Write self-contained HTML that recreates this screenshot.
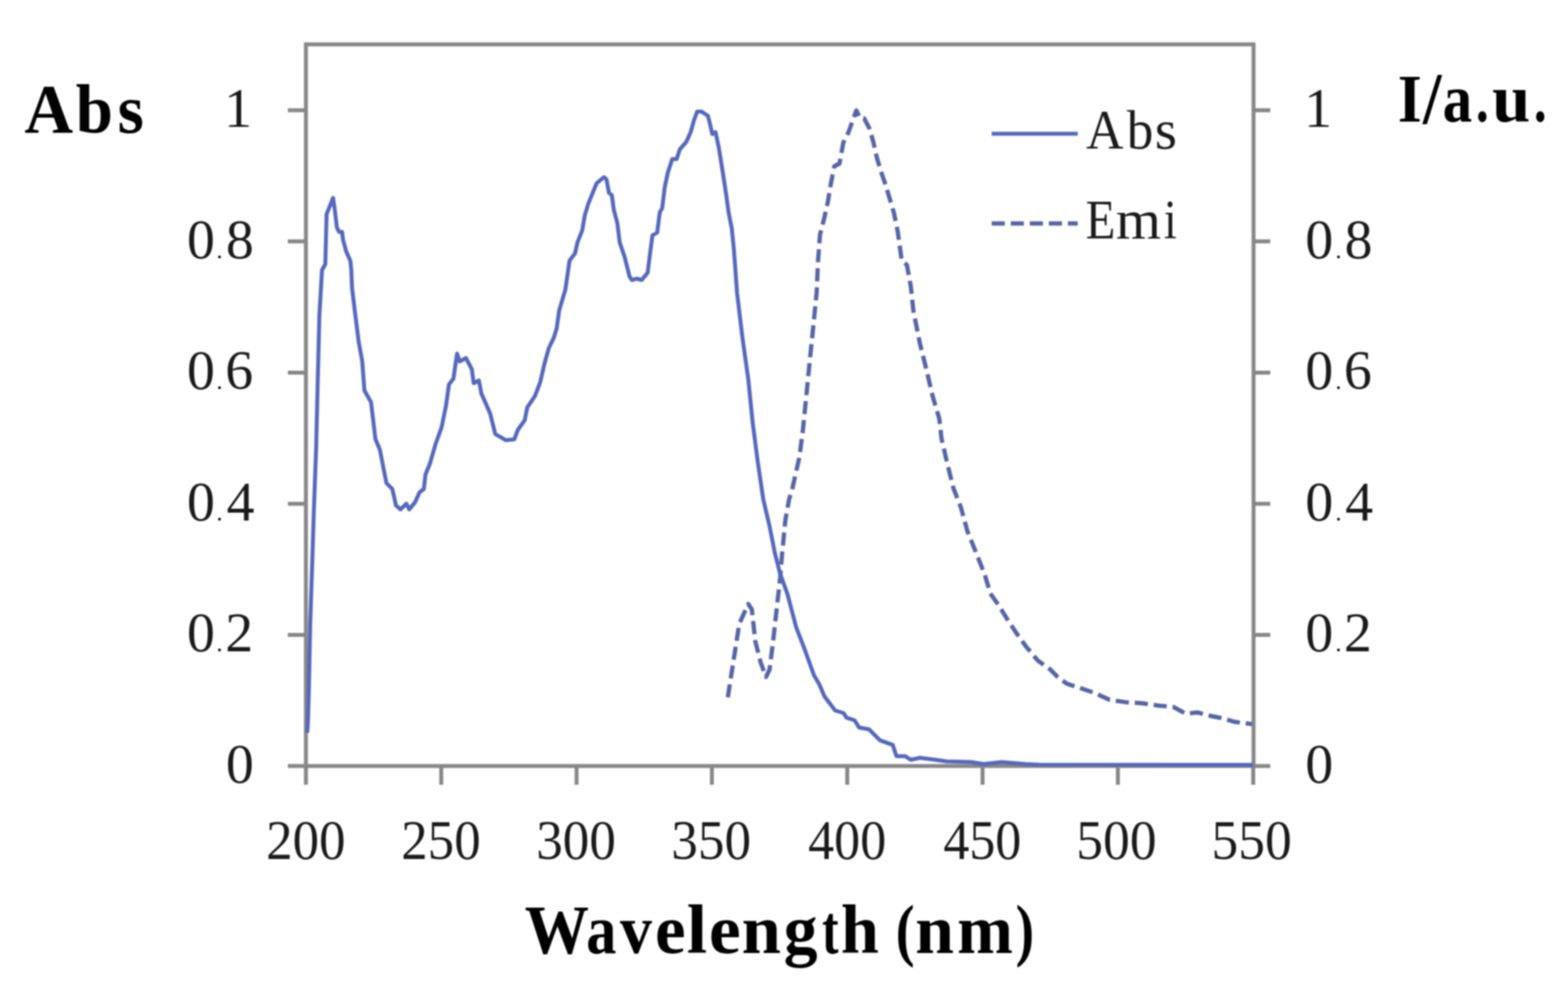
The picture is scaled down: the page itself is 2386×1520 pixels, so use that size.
<!DOCTYPE html>
<html><head><meta charset="utf-8"><title>Abs / Emi spectra</title>
<style>
html,body{margin:0;padding:0;background:#fff;}
body{width:2386px;height:1520px;overflow:hidden;}
svg{display:block;filter:blur(1.2px);}
.n{font-family:"Liberation Serif",serif;font-size:85px;fill:#1a1a1a;}
.b{font-family:"Liberation Serif",serif;font-weight:bold;fill:#000;}
</style></head>
<body>
<svg width="2386" height="1520" viewBox="0 0 2386 1520">
<rect x="0" y="0" width="2386" height="1520" fill="#fff"/>
<rect x="465.5" y="67.5" width="1442.0" height="1098.0" fill="none" stroke="#878787" stroke-width="6"/>
<path d="M438,1165.5 H465.5 M1907.5,1165.5 H1933 M438,965.96 H465.5 M1907.5,965.96 H1933 M438,766.42 H465.5 M1907.5,766.42 H1933 M438,566.88 H465.5 M1907.5,566.88 H1933 M438,367.34 H465.5 M1907.5,367.34 H1933 M438,167.8 H465.5 M1907.5,167.8 H1933 M465.5,1165.5 V1194 M671.43,1165.5 V1194 M877.36,1165.5 V1194 M1083.29,1165.5 V1194 M1289.22,1165.5 V1194 M1495.15,1165.5 V1194 M1701.08,1165.5 V1194 M1907.01,1165.5 V1194" stroke="#878787" stroke-width="6" fill="none"/>
<path d="M1107.5,1061 L1117,1000 L1125,949 L1138.6,919 L1144,927 L1149.4,976 L1157.5,1008 L1165.6,1030 L1171,1019 L1176.4,976 L1181.8,927 L1187.2,879 L1190,844 L1195,792 L1200.7,760 L1205.8,743 L1216.3,696 L1221.6,656 L1226.8,604 L1232,551 L1237.4,498 L1242.6,446 L1244.8,397 L1247.8,357 L1253.7,334 L1259.6,308 L1264.6,278 L1269.5,253 L1277.4,249 L1283.3,217 L1291.2,201 L1298.1,182 L1303,168 L1309,180 L1314.9,180 L1322.8,195 L1328.7,215 L1334.6,241 L1340.6,261 L1346.5,278 L1354.4,304 L1360.3,324 L1366.2,353 L1372.2,397 L1380,403 L1386,436 L1389.9,473 L1399.7,522 L1409.6,562 L1419.5,604 L1429.3,637 L1432.6,667 L1440.9,703 L1450.7,742.5 L1462.2,772 L1472,808 L1485.3,841 L1498.4,874 L1507,903 L1519.4,920.5 L1533.5,943.4 L1547.5,964.5 L1561.6,984 L1579.2,1005 L1598.6,1019 L1609,1029.6 L1623.2,1040.2 L1644.4,1047.2 L1665.5,1054.3 L1688.4,1064.8 L1713,1068.4 L1737.7,1070 L1764,1073.7 L1785,1075.4 L1804.6,1086 L1822,1084 L1843.3,1089.5 L1861,1093 L1878.5,1098.3 L1905,1101.8" fill="none" stroke="#5764a6" stroke-width="6.5" stroke-dasharray="20 9" stroke-linejoin="round"/>
<path d="M467.5,1115 L468.5,1100 L470,1050 L472,950 L475,860 L477.5,780 L481,684 L483,600 L486,480 L490,411 L495,402 L497,326 L506.8,301 L509.5,319.5 L512.6,346 L515.8,352.7 L520.5,352.7 L522,365 L526.9,382.7 L533.2,396.9 L534.5,410 L535.7,438 L539.5,469.6 L545.8,520 L551.2,549.5 L554.5,594 L564.6,612 L571.3,668 L578,684 L588,735 L597,744 L602.6,769 L609.4,775 L618.3,766.5 L622.8,775 L631.7,764 L638.4,749 L645,744 L647.4,722 L654,706 L663,675 L672,650 L678.7,617 L683.2,585 L690,576 L695.5,538 L699.7,550 L709,544.7 L718,562 L720.8,583 L728.7,579 L732.6,599 L745.8,629 L753.7,660.5 L769.5,669.7 L782.6,668.4 L788,654 L798.4,639.5 L802.4,619.7 L814,602.6 L822,581.6 L828.7,552.6 L835,530 L843,513 L847,500 L851,472 L860.3,440.7 L866.7,396.5 L875,385.5 L878.7,369 L886,350.5 L889.7,328.4 L895.2,310 L902.6,291.6 L908,278.7 L919,269.5 L922.9,273 L926.6,293.4 L931,297 L934,319 L939.4,339.4 L943,369 L950.5,391 L957.9,420.5 L961.5,426 L969,424 L976.3,426 L985.5,415 L989,387 L992.8,358 L1000,354 L1004,323 L1007.6,317 L1011.5,285 L1016.4,262 L1023,242 L1029.6,242 L1034.5,227.3 L1044.4,215.8 L1051,201 L1056,183 L1060.9,169.7 L1067.4,169.7 L1077.3,176.3 L1080.6,189.5 L1083.9,204 L1088.8,201 L1093.7,224 L1100.3,265 L1105.3,298 L1108.6,322.7 L1113.5,347.4 L1116.8,380 L1121.6,445.8 L1129.5,511.6 L1138.7,577.4 L1145.3,643 L1153.2,703.7 L1161.5,760 L1171,800.5 L1179,841 L1187.2,873.4 L1198,903 L1211.5,954.3 L1225,989.4 L1238.4,1027 L1246.5,1040.7 L1254.6,1059.6 L1270.8,1081 L1283.8,1085 L1288,1091.8 L1300.4,1096 L1307.3,1107 L1322.6,1109.8 L1339,1126.4 L1358.5,1133.3 L1364,1150.4 L1377,1150.4 L1386,1156 L1400,1153 L1423,1156 L1441,1158.5 L1478,1159.5 L1497,1162.5 L1524,1159.5 L1560,1162.5 L1580,1163.5 L1907,1163.8" fill="none" stroke="#5568bd" stroke-width="6" stroke-linejoin="round"/>
<path d="M1509,203.5 H1640" stroke="#5568bd" stroke-width="6"/>
<path d="M1509,340 H1640" stroke="#5764a6" stroke-width="6.5" stroke-dasharray="20 9"/>
<text x="343.8" y="1190.8" class="n">0</text>
<text x="1986.3" y="1190.8" class="n">0</text>
<text y="991.3" class="n"><tspan x="284.6">0</tspan><tspan x="329.5" font-size="36" fill="#000">.</tspan><tspan x="342.8">2</tspan></text>
<text y="991.3" class="n"><tspan x="1986.3">0</tspan><tspan x="2032.3" font-size="36" fill="#000">.</tspan><tspan x="2045.0">2</tspan></text>
<text y="791.7" class="n"><tspan x="284.6">0</tspan><tspan x="329.5" font-size="36" fill="#000">.</tspan><tspan x="344.8">4</tspan></text>
<text y="791.7" class="n"><tspan x="1986.3">0</tspan><tspan x="2032.3" font-size="36" fill="#000">.</tspan><tspan x="2047.0">4</tspan></text>
<text y="592.2" class="n"><tspan x="284.6">0</tspan><tspan x="329.5" font-size="36" fill="#000">.</tspan><tspan x="342.8">6</tspan></text>
<text y="592.2" class="n"><tspan x="1986.3">0</tspan><tspan x="2032.3" font-size="36" fill="#000">.</tspan><tspan x="2045.0">6</tspan></text>
<text y="392.6" class="n"><tspan x="284.6">0</tspan><tspan x="329.5" font-size="36" fill="#000">.</tspan><tspan x="343.8">8</tspan></text>
<text y="392.6" class="n"><tspan x="1986.3">0</tspan><tspan x="2032.3" font-size="36" fill="#000">.</tspan><tspan x="2046.0">8</tspan></text>
<text x="341.0" y="193.1" class="n">1</text>
<text x="1984.5" y="193.1" class="n">1</text>
<text x="404.9" y="1306.5" class="n" textLength="120.8" lengthAdjust="spacingAndGlyphs">200</text>
<text x="610.6" y="1306.5" class="n" textLength="120.8" lengthAdjust="spacingAndGlyphs">250</text>
<text x="815.9" y="1306.5" class="n" textLength="121.3" lengthAdjust="spacingAndGlyphs">300</text>
<text x="1021.6" y="1306.5" class="n" textLength="121.3" lengthAdjust="spacingAndGlyphs">350</text>
<text x="1229.7" y="1306.5" class="n" textLength="118.8" lengthAdjust="spacingAndGlyphs">400</text>
<text x="1435.4" y="1306.5" class="n" textLength="118.8" lengthAdjust="spacingAndGlyphs">450</text>
<text x="1637.8" y="1306.5" class="n" textLength="122.1" lengthAdjust="spacingAndGlyphs">500</text>
<text x="1843.5" y="1306.5" class="n" textLength="122.1" lengthAdjust="spacingAndGlyphs">550</text>
<text class="b" font-size="105.4"><tspan x="37.3" y="201.6" textLength="74.0" lengthAdjust="spacingAndGlyphs">A</tspan><tspan x="115.2" y="201.6" textLength="56.7" lengthAdjust="spacingAndGlyphs">b</tspan><tspan x="179.1" y="201.6" textLength="39.9" lengthAdjust="spacingAndGlyphs">s</tspan></text>
<text class="b" font-size="104"><tspan x="2127.1" y="185.0" textLength="36.5" lengthAdjust="spacingAndGlyphs">I</tspan><tspan x="2165.2" y="188.0" font-size="113" textLength="28.3" lengthAdjust="spacingAndGlyphs">/</tspan><tspan x="2195.3" y="185.0" textLength="44.9" lengthAdjust="spacingAndGlyphs">a</tspan><tspan x="2245.7" y="185.0" textLength="19.7" lengthAdjust="spacingAndGlyphs">.</tspan><tspan x="2270.5" y="185.0" textLength="58.2" lengthAdjust="spacingAndGlyphs">u</tspan><tspan x="2334.0" y="185.0" textLength="19.5" lengthAdjust="spacingAndGlyphs">.</tspan></text>
<text class="b" font-size="106"><tspan x="798.5" y="1449.5" textLength="97.7" lengthAdjust="spacingAndGlyphs">W</tspan><tspan x="892.0" y="1449.5" textLength="46.0" lengthAdjust="spacingAndGlyphs">a</tspan><tspan x="943.4" y="1449.5" textLength="48.6" lengthAdjust="spacingAndGlyphs">v</tspan><tspan x="996.7" y="1449.5" textLength="46.5" lengthAdjust="spacingAndGlyphs">e</tspan><tspan x="1045.1" y="1449.5" textLength="31.1" lengthAdjust="spacingAndGlyphs">l</tspan><tspan x="1078.7" y="1449.5" textLength="48.4" lengthAdjust="spacingAndGlyphs">e</tspan><tspan x="1128.4" y="1449.5" textLength="59.8" lengthAdjust="spacingAndGlyphs">n</tspan><tspan x="1192.4" y="1449.5" textLength="51.5" lengthAdjust="spacingAndGlyphs">g</tspan><tspan x="1250.9" y="1449.5" textLength="25.0" lengthAdjust="spacingAndGlyphs">t</tspan><tspan x="1279.6" y="1449.5" textLength="58.0" lengthAdjust="spacingAndGlyphs">h</tspan> <tspan x="1362.9" y="1449.5" textLength="28.7" lengthAdjust="spacingAndGlyphs">(</tspan><tspan x="1392.8" y="1449.5" textLength="58.9" lengthAdjust="spacingAndGlyphs">n</tspan><tspan x="1456.6" y="1449.5" textLength="84.9" lengthAdjust="spacingAndGlyphs">m</tspan><tspan x="1545.4" y="1449.5" textLength="28.1" lengthAdjust="spacingAndGlyphs">)</tspan></text>
<text class="n" font-size="81"><tspan x="1652.7" y="226.3" textLength="56.9" lengthAdjust="spacingAndGlyphs">A</tspan><tspan x="1714.6" y="226.3" textLength="40.5" lengthAdjust="spacingAndGlyphs">b</tspan><tspan x="1757.3" y="226.3" textLength="33.7" lengthAdjust="spacingAndGlyphs">s</tspan></text>
<text class="n" font-size="81"><tspan x="1652.0" y="362.5" textLength="45.3" lengthAdjust="spacingAndGlyphs">E</tspan><tspan x="1698.0" y="362.5" textLength="68.7" lengthAdjust="spacingAndGlyphs">m</tspan><tspan x="1770.9" y="362.5" textLength="19.8" lengthAdjust="spacingAndGlyphs">i</tspan></text>
</svg>
</body></html>
